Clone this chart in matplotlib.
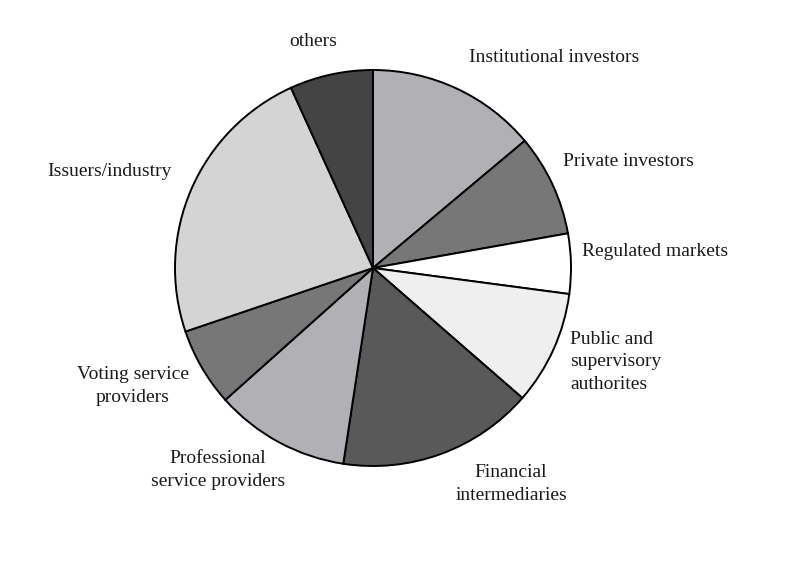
import matplotlib.pyplot as plt

# slice shares (percent), clockwise from 12 o'clock
labels = ["Institutional investors", "Private investors", "Regulated markets",
          "Public and\nsupervisory\nauthorites", "Financial\nintermediaries",
          "Professional\nservice providers", "Voting service\nproviders",
          "Issuers/industry", "others"]
shares = [13.9, 8.3, 4.9, 9.3, 16.0, 11.0, 6.4, 23.4, 6.8]
colors = ["#b1b1b5", "#777777", "#ffffff", "#efefef", "#595959",
          "#b1b1b5", "#777777", "#d4d4d4", "#444444"]

# label anchor points (pixel coords, y from top) and alignment
label_pos = [(554, 58, "center"), (628, 161, "center"), (655, 252, "center"),
             (570, 362, "left"), (511, 484, "center"), (218, 470, "center"),
             (133, 386, "center"), (109, 172, "center"), (313, 42, "center")]

W, H = 800, 572
fig = plt.figure(figsize=(8, 5.72), dpi=100)
ax = fig.add_axes([0, 0, 1, 1])
ax.set_xlim(0, W)
ax.set_ylim(0, H)
ax.set_aspect("equal")
ax.axis("off")

ax.pie(shares, colors=colors, startangle=90, counterclock=False,
       center=(373, H - 268), radius=198,
       wedgeprops=dict(edgecolor="black", linewidth=1.4))
ax.set_xlim(0, W)
ax.set_ylim(0, H)

for txt, (x, y, ha) in zip(labels, label_pos):
    ax.text(x, H - y, txt, ha=ha, va="center", multialignment=ha,
            fontsize=14, family="Liberation Serif", color="#1a1a1a",
            linespacing=1.42)

fig.savefig("out.png", dpi=100, facecolor="white")
